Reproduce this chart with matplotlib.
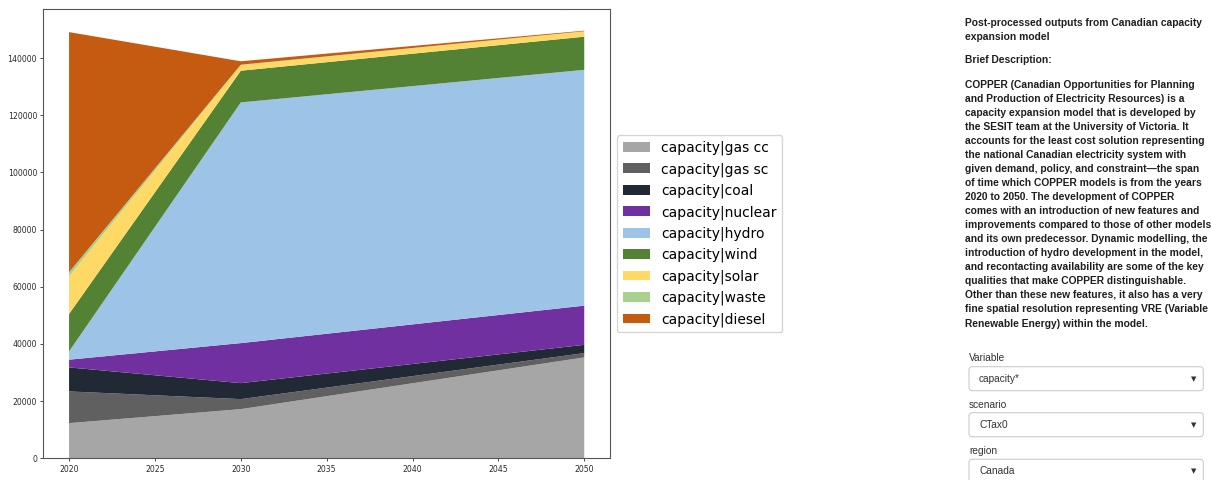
import matplotlib
matplotlib.use("Agg")
import matplotlib.pyplot as plt
from matplotlib.patches import FancyBboxPatch

# Installed capacity by technology (MW), Canada, CTax0 scenario
years = [2020, 2030, 2050]
gas_cc = [12300, 17200, 35300]
gas_sc = [11100, 3500, 1500]
coal = [8400, 5600, 2900]
nuclear = [2700, 14000, 13700]
hydro = [2900, 84200, 82500]
wind = [13100, 11100, 11600]
solar = [13200, 2000, 1900]
waste = [1400, 100, 0]
diesel = [84000, 1200, 200]

series_labels = [
    "capacity|gas cc", "capacity|gas sc", "capacity|coal", "capacity|nuclear",
    "capacity|hydro", "capacity|wind", "capacity|solar", "capacity|waste",
    "capacity|diesel",
]
series_colors = [
    "#a6a6a6", "#606060", "#212934", "#7030a0", "#9dc3e6",
    "#548235", "#ffd966", "#a9d18e", "#c55a11",
]

title_lines = [
    "Post-processed outputs from Canadian capacity",
    "expansion model",
]
heading = "Brief Description:"
description_lines = [
    "COPPER (Canadian Opportunities for Planning",
    "and Production of Electricity Resources) is a",
    "capacity expansion model that is developed by",
    "the SESIT team at the University of Victoria. It",
    "accounts for the least cost solution representing",
    "the national Canadian electricity system with",
    "given demand, policy, and constraint\u2014the span",
    "of time which COPPER models is from the years",
    "2020 to 2050. The development of COPPER",
    "comes with an introduction of new features and",
    "improvements compared to those of other models",
    "and its own predecessor. Dynamic modelling, the",
    "introduction of hydro development in the model,",
    "and recontacting availability are some of the key",
    "qualities that make COPPER distinguishable.",
    "Other than these new features, it also has a very",
    "fine spatial resolution representing VRE (Variable",
    "Renewable Energy) within the model.",
]
dropdown_labels = ["Variable", "scenario", "region"]
dropdown_values = ["capacity*", "CTax0", "Canada"]

W, H = 1211, 480
fig = plt.figure(figsize=(W / 100, H / 100), dpi=100)

# Stacked area chart
ax = fig.add_axes([43.3 / W, 1 - 458.3 / H, (610 - 43.3) / W, (458.3 - 9.3) / H])
ax.stackplot(years, gas_cc, gas_sc, coal, nuclear, hydro, wind, solar, waste,
             diesel, labels=series_labels, colors=series_colors, linewidth=0)
ax.set_xticks([2020, 2025, 2030, 2035, 2040, 2045, 2050])
ax.set_yticks(range(0, 140001, 20000))
ax.tick_params(labelsize=5.6, length=2.5, width=0.6, pad=2, colors="#2a2a2a")
for sp in ax.spines.values():
    sp.set_color("#555555")
    sp.set_linewidth(0.8)
ax.legend(loc="center left", bbox_to_anchor=(1, 0.5), fontsize=10,
          handlelength=2.0)

# Side panel drawn in pixel coordinates
panel = fig.add_axes([0, 0, 1, 1])
panel.set_xlim(0, W)
panel.set_ylim(H, 0)
panel.set_facecolor("none")
panel.axis("off")

txt_kw = dict(family="Liberation Sans", color="#1e1e1e", va="center", ha="left")
x0 = 965
for i, line in enumerate(title_lines):
    panel.text(x0, 23 + 14 * i, line, fontsize=7.4, weight="bold", **txt_kw)
panel.text(x0, 60, heading, fontsize=7.4, weight="bold", **txt_kw)
for i, line in enumerate(description_lines):
    panel.text(x0, 84.5 + 14.06 * i, line, fontsize=7.4, weight="bold", **txt_kw)

label_y = [358.3, 405, 451.5]
box_top = [366.7, 412.7, 459.3]
box_h = 24
for lab, val, ly, bt in zip(dropdown_labels, dropdown_values, label_y, box_top):
    panel.text(969, ly, lab, fontsize=7.3, family="Liberation Sans",
               color="#333333", va="center", ha="left")
    box = FancyBboxPatch((969, bt), 1203.3 - 969, box_h,
                         boxstyle="round,pad=0,rounding_size=3.5",
                         facecolor="white", edgecolor="#cccccc", linewidth=0.8,
                         clip_on=False)
    panel.add_patch(box)
    panel.text(979, bt + box_h / 2, val, fontsize=7.3, family="Liberation Sans",
               color="#333333", va="center", ha="left")
    panel.text(1194, bt + box_h / 2, "\u25bc", fontsize=5, family="DejaVu Sans",
               color="#333333", va="center", ha="center")

fig.savefig("out.png", dpi=100)
